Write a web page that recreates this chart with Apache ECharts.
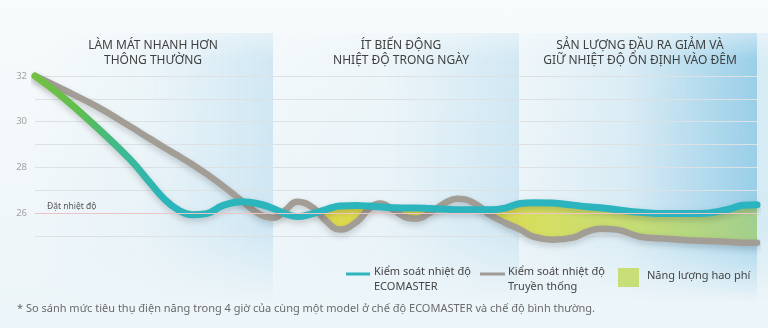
<!DOCTYPE html>
<html>
<head>
<meta charset="utf-8">
<script src="https://cdn.jsdelivr.net/npm/echarts@6/dist/echarts.min.js"></script>
<style>
html,body{margin:0;padding:0;background:#f3f8fb;}
#wrap{position:relative;width:768px;height:328px;overflow:hidden;
  background:linear-gradient(to bottom,#f8fbfc 0%,#f1f7fa 55%,#ecf5f9 100%);}
.pn{position:absolute;top:33px;height:270px;
  -webkit-mask-image:linear-gradient(to bottom,rgba(0,0,0,0.5) 0%,#000 10%,#000 72%,transparent 100%);
  mask-image:linear-gradient(to bottom,rgba(0,0,0,0.5) 0%,#000 10%,#000 72%,transparent 100%);}
#p1{left:35px;width:238px;background:linear-gradient(to right,rgba(195,226,240,0) 0%,rgba(195,226,240,0.15) 45%,rgba(184,220,238,0.6) 100%);}
#p2{left:273px;width:246px;background:linear-gradient(to right,rgba(195,226,240,0.05) 0%,rgba(195,226,240,0.15) 45%,rgba(184,220,238,0.6) 100%);}
#p3{left:519px;width:238px;background:linear-gradient(to right,rgba(185,220,238,0.1) 0%,rgba(172,214,235,0.35) 45%,rgba(148,204,231,0.95) 100%);}
#p4{left:757px;width:11px;background:rgba(196,226,240,0.6);}
#chart{position:absolute;left:0;top:0;width:768px;height:328px;}
</style>
</head>
<body>
<div id="wrap">
  <div class="pn" id="p1"></div>
  <div class="pn" id="p2"></div>
  <div class="pn" id="p3"></div>
  <div class="pn" id="p4"></div>
  <div id="chart"></div>
</div>
<script>
// ---- data ----
const timeSteps = [0,3.9,8.6,13.2,15.9,18.0,19.8,21.7,23.8,26.0,28.8,
  31.2,33.0,34.6,36.3,38.5,40.4,42.2,44.6,46.4,47.8,
  49.6,51.5,52.9,54.7,57.1,58.4,60.7,63.0,65.1,67.2,
  69.0,71.7,74.5,76.5,78.3,80.6,83.8,87.5,92.1,95.8,
  98.1,100];
const ecomasterTemp = [32.00,31.06,29.74,28.34,27.34,26.59,26.15,25.93,25.98,26.33,26.50,
  26.39,26.20,25.98,25.85,25.98,26.17,26.31,26.33,26.31,26.28,
  26.24,26.22,26.22,26.20,26.17,26.15,26.15,26.15,26.22,26.42,
  26.46,26.44,26.35,26.28,26.24,26.15,26.04,25.98,25.98,26.15,
  26.35,26.37];
const traditionalTemp = [32.00,31.41,30.66,29.79,29.26,28.85,28.52,28.15,27.71,27.20,26.50,
  25.93,25.80,26.11,26.50,26.24,25.63,25.28,25.63,26.24,26.42,
  26.15,25.80,25.76,26.02,26.50,26.63,26.46,25.93,25.58,25.28,
  24.97,24.84,24.93,25.19,25.32,25.28,24.97,24.88,24.79,24.75,
  24.71,24.71];
const phaseBounds = [0, 33.0, 67.2, 100];
const setTemp = 26;
const yTicks = [25,26,27,28,29,30,31,32];
const phaseTitles = ['LÀM MÁT NHANH HƠN\nTHÔNG THƯỜNG','ÍT BIẾN ĐỘNG\nNHIỆT ĐỘ TRONG NGÀY','SẢN LƯỢNG ĐẦU RA GIẢM VÀ\nGIỮ NHIỆT ĐỘ ỔN ĐỊNH VÀO ĐÊM'];
const legendNames = ['Kiểm soát nhiệt độ\nECOMASTER','Kiểm soát nhiệt độ\nTruyền thống','Năng lượng hao phí'];
const setTempLabel = 'Đặt nhiệt độ';
const footnote = '* So sánh mức tiêu thụ điện năng trong 4 giờ của cùng một model ở chế độ ECOMASTER và chế độ bình thường.';

// ---- derived ----
const ecoData = timeSteps.map((t,i)=>[t, ecomasterTemp[i]]);
const tradData = timeSteps.map((t,i)=>[t, traditionalTemp[i]]);

const FONT = '"Noto Sans", "DejaVu Sans", sans-serif';
const chart = echarts.init(document.getElementById('chart'), null, {renderer:'canvas'});

function renderWaste(params, api) {
  const upper = [], lower = [];
  for (let i = 0; i < timeSteps.length; i++) {
    if (timeSteps[i] <= phaseBounds[1]) continue;
    const lo = Math.min(ecomasterTemp[i], traditionalTemp[i]);
    upper.push(api.coord([timeSteps[i], ecomasterTemp[i]]));
    lower.push(api.coord([timeSteps[i], lo]));
  }
  const pts = upper.concat(lower.reverse());
  let minX = Infinity, minY = Infinity, maxX = -Infinity, maxY = -Infinity;
  pts.forEach(p => { minX = Math.min(minX,p[0]); maxX = Math.max(maxX,p[0]); minY = Math.min(minY,p[1]); maxY = Math.max(maxY,p[1]); });
  return {
    type: 'polygon',
    shape: { points: pts, smooth: 0.45, smoothConstraint: [[minX, minY], [maxX, maxY]] },
    style: {
      opacity: 0.92,
      fill: new echarts.graphic.LinearGradient(0,0,1,0,[
        {offset:0, color:'#dcd63c'},{offset:0.45, color:'#d9d944'},{offset:0.55, color:'#d3dd55'},
        {offset:0.75, color:'#c3db6c'},{offset:1, color:'#a2cf86'}])
    }
  };
}

const option = {
  animation: false,
  backgroundColor: 'transparent',
  grid: {left: 35, right: 11, top: 76, bottom: 92},
  xAxis: {type:'value', min: 0, max: 100, show: false},
  yAxis: {
    type:'value', min: yTicks[0], max: yTicks[yTicks.length-1], interval: 1,
    axisLine:{show:false}, axisTick:{show:false},
    axisLabel:{margin: 8, color:'#a2a2a2', fontSize: 9.5, fontFamily: FONT,
      formatter: v => (v % 2 === 0 ? String(v) : '')},
    splitLine:{lineStyle:{color:'#dce1e4', width:1}}
  },
  series: [
    {
      type:'custom', name: legendNames[2], data: [[0]], renderItem: renderWaste, clip:false, z:2, silent:true,
      markLine:{silent:true, symbol:'none', animation:false,
        lineStyle:{color:'#eec3c6', type:'solid', width:1.2},
        label:{show:false}, data:[{yAxis: setTemp}]}
    },
    {
      type:'line', name:'trad', data: tradData, smooth: 0.45, symbol:'none', clip:false, z:3,
      lineStyle:{width:6.5, color:'#a29d95', cap:'round', shadowColor:'rgba(0,0,0,0.18)', shadowBlur:6, shadowOffsetY:3}
    },
    {
      type:'line', name:'eco', data: ecoData, smooth: 0.45, symbol:'none', clip:false, z:4,
      lineStyle:{width:7, cap:'round', shadowColor:'rgba(0,0,0,0.18)', shadowBlur:6, shadowOffsetY:3,
        color: new echarts.graphic.LinearGradient(0,0,1,0,[
          {offset:0, color:'#74c13f'},{offset:0.06, color:'#62be4d'},{offset:0.12, color:'#3fb98f'},
          {offset:0.18, color:'#2bb5bb'},{offset:1, color:'#2bb4c0'}])}
    }
  ],
  graphic: [
    {type:'text', x:153, y:53.5, z:100, style:{text:phaseTitles[0], align:'center', verticalAlign:'middle', fontSize:12, lineHeight:15, fontFamily:FONT, fill:'#404040'}},
    {type:'text', x:401, y:53.5, z:100, style:{text:phaseTitles[1], align:'center', verticalAlign:'middle', fontSize:12, lineHeight:15, fontFamily:FONT, fill:'#404040'}},
    {type:'text', x:640, y:53.5, z:100, style:{text:phaseTitles[2], align:'center', verticalAlign:'middle', fontSize:12, lineHeight:15, fontFamily:FONT, fill:'#404040'}},
    {type:'text', x:47, y:207, z:100, style:{text:setTempLabel, align:'left', verticalAlign:'middle', fontSize:8.5, fontFamily:FONT, fill:'#555'}},
    {type:'line', z:100, shape:{x1:346, y1:274, x2:370, y2:274}, style:{stroke:'#2cb5bf', lineWidth:3}},
    {type:'text', x:374, y:279, z:100, style:{text:legendNames[0], align:'left', verticalAlign:'middle', fontSize:11, lineHeight:15, fontFamily:FONT, fill:'#444'}},
    {type:'line', z:100, shape:{x1:480, y1:274, x2:505, y2:274}, style:{stroke:'#a09b95', lineWidth:3}},
    {type:'text', x:508, y:279, z:100, style:{text:legendNames[1], align:'left', verticalAlign:'middle', fontSize:11, lineHeight:15, fontFamily:FONT, fill:'#444'}},
    {type:'rect', z:100, shape:{x:618, y:268, width:21, height:19}, style:{fill:'#c8df78'}},
    {type:'text', x:647, y:276, z:100, style:{text:legendNames[2], align:'left', verticalAlign:'middle', fontSize:11, fontFamily:FONT, fill:'#444'}},
    {type:'text', x:17, y:309, z:100, style:{text:footnote, align:'left', verticalAlign:'middle', fontSize:11, fontFamily:FONT, fill:'#6a6a6a'}}
  ]
};
chart.setOption(option);
</script>
</body>
</html>
